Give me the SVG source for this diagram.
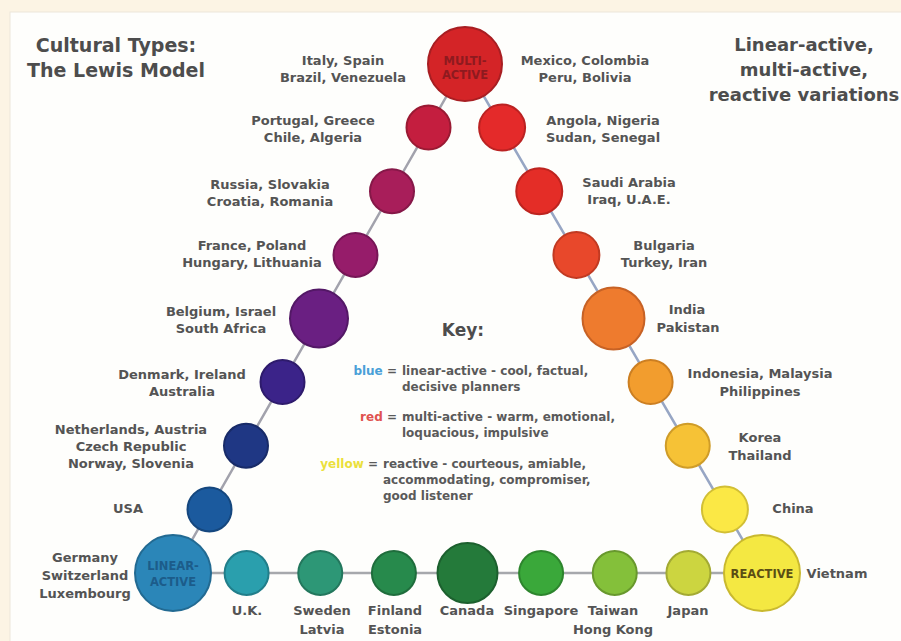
<svg xmlns="http://www.w3.org/2000/svg" width="901" height="641" viewBox="0 0 901 641">
<style>
.lbl{font-family:"DejaVu Sans","Liberation Sans",sans-serif;font-weight:bold;font-size:13px;fill:#545454;text-anchor:middle}
.ttl{font-family:"DejaVu Sans","Liberation Sans",sans-serif;font-weight:bold;fill:#4d4d4d;text-anchor:middle}
.key{font-family:"DejaVu Sans","Liberation Sans",sans-serif;font-weight:bold;font-size:12px;fill:#5a5a5a}
.in{font-family:"DejaVu Sans","Liberation Sans",sans-serif;font-weight:bold;font-size:11.5px;text-anchor:middle}
.cl{stroke-width:2.5;fill:none;stroke-linecap:round}
circle{stroke-width:2}
</style>
<rect x="0" y="0" width="901" height="641" fill="#fcf4e4"/>
<rect x="10" y="12" width="900" height="640" fill="#fefefc" stroke="#ece6da" stroke-width="1"/>

<g id="titles">
<text class="ttl" font-size="19" x="116" y="52">Cultural Types:</text>
<text class="ttl" font-size="19" x="116" y="77">The Lewis Model</text>
<text class="ttl" font-size="18" x="804" y="51">Linear-active,</text>
<text class="ttl" font-size="18" x="804" y="76">multi-active,</text>
<text class="ttl" font-size="18" x="804" y="101">reactive variations</text>
</g>

<g id="connectors">
<polyline class="cl" stroke="#a2a2ac" points="465,64 428.5,127.6 392,191.25 355.5,254.9 319,318.5 282.5,382.1 246,445.75 209.5,509.4 173,573"/>
<polyline class="cl" stroke="#97a6c4" points="465,64 502.1,127.6 539.25,191.25 576.4,254.9 613.5,318.5 650.6,382.1 687.75,445.75 724.9,509.4 762,573"/>
<line class="cl" stroke="#a6a8ac" x1="173" y1="573" x2="762" y2="573"/>
</g>

<g id="n-multi-active"><circle cx="465" cy="64" r="37" fill="#d42427" stroke="#a81e22"/><text class="in" fill="#8e1a1f" x="465" y="65">MULTI-</text><text class="in" fill="#8e1a1f" x="465" y="79">ACTIVE</text></g>
<g id="n-portugal"><circle cx="428.5" cy="127.6" r="22" fill="#c41e3f" stroke="#9a1a33"/></g>
<g id="n-russia"><circle cx="392" cy="191.25" r="22" fill="#a81e5a" stroke="#861848"/></g>
<g id="n-france"><circle cx="355.5" cy="254.9" r="22" fill="#961c6a" stroke="#761656"/></g>
<g id="n-belgium"><circle cx="319" cy="318.5" r="29" fill="#6a1f82" stroke="#531866"/></g>
<g id="n-denmark"><circle cx="282.5" cy="382.1" r="22" fill="#3b2389" stroke="#2e1b6c"/></g>
<g id="n-netherlands"><circle cx="246" cy="445.75" r="22" fill="#1f3784" stroke="#182b68"/></g>
<g id="n-usa"><circle cx="209.5" cy="509.4" r="22" fill="#1b5a9e" stroke="#15477e"/></g>
<g id="n-linear-active"><circle cx="173" cy="573" r="38" fill="#2b86b8" stroke="#226a92"/><text class="in" fill="#1c5c8a" x="173" y="570">LINEAR-</text><text class="in" fill="#1c5c8a" x="173" y="586">ACTIVE</text></g>
<g id="n-uk"><circle cx="246.6" cy="573" r="22" fill="#2a9fad" stroke="#217e8a"/></g>
<g id="n-sweden"><circle cx="320.25" cy="573" r="22" fill="#2d9776" stroke="#23775d"/></g>
<g id="n-finland"><circle cx="393.9" cy="573" r="22" fill="#278a4c" stroke="#1f6d3c"/></g>
<g id="n-canada"><circle cx="467.5" cy="573" r="30" fill="#247a3a" stroke="#1c602e"/></g>
<g id="n-singapore"><circle cx="541.1" cy="573" r="22" fill="#3aa83a" stroke="#2d852d"/></g>
<g id="n-taiwan"><circle cx="614.75" cy="573" r="22" fill="#84c03a" stroke="#68982d"/></g>
<g id="n-japan"><circle cx="688.4" cy="573" r="22" fill="#ccd540" stroke="#a3aa33"/></g>
<g id="n-reactive"><circle cx="762" cy="573" r="38" fill="#f4e842" stroke="#c9b92f"/><text class="in" fill="#5b4e14" x="762" y="578">REACTIVE</text></g>
<g id="n-china"><circle cx="724.9" cy="509.4" r="23" fill="#fbe845" stroke="#d2bf35"/></g>
<g id="n-korea"><circle cx="687.75" cy="445.75" r="22" fill="#f6c236" stroke="#cf9c28"/></g>
<g id="n-indonesia"><circle cx="650.6" cy="382.1" r="22" fill="#f29d2e" stroke="#cc7f22"/></g>
<g id="n-india"><circle cx="613.5" cy="318.5" r="31" fill="#ee7b2e" stroke="#c76225"/></g>
<g id="n-bulgaria"><circle cx="576.4" cy="254.9" r="23" fill="#e8482b" stroke="#c13a22"/></g>
<g id="n-saudi"><circle cx="539.25" cy="191.25" r="23" fill="#e42d27" stroke="#bd241f"/></g>
<g id="n-angola"><circle cx="502.1" cy="127.6" r="23" fill="#e42a2a" stroke="#bb2222"/></g>

<g id="labels">
<text class="lbl" x="343" y="64.5">Italy, Spain</text>
<text class="lbl" x="343" y="81.5">Brazil, Venezuela</text>
<text class="lbl" x="585" y="64.5">Mexico, Colombia</text>
<text class="lbl" x="585" y="81.5">Peru, Bolivia</text>
<text class="lbl" x="313" y="124.5">Portugal, Greece</text>
<text class="lbl" x="313" y="141.5">Chile, Algeria</text>
<text class="lbl" x="603" y="124.5">Angola, Nigeria</text>
<text class="lbl" x="603" y="142">Sudan, Senegal</text>
<text class="lbl" x="270" y="188.5">Russia, Slovakia</text>
<text class="lbl" x="270" y="205.5">Croatia, Romania</text>
<text class="lbl" x="629" y="186.5">Saudi Arabia</text>
<text class="lbl" x="629" y="203.5">Iraq, U.A.E.</text>
<text class="lbl" x="252" y="249.5">France, Poland</text>
<text class="lbl" x="252" y="267">Hungary, Lithuania</text>
<text class="lbl" x="664" y="249.5">Bulgaria</text>
<text class="lbl" x="664" y="267">Turkey, Iran</text>
<text class="lbl" x="221" y="315.5">Belgium, Israel</text>
<text class="lbl" x="221" y="333">South Africa</text>
<text class="lbl" x="687" y="313.5">India</text>
<text class="lbl" x="688" y="331.5">Pakistan</text>
<text class="lbl" x="182" y="378.5">Denmark, Ireland</text>
<text class="lbl" x="182" y="396">Australia</text>
<text class="lbl" x="760" y="377.5">Indonesia, Malaysia</text>
<text class="lbl" x="760" y="396">Philippines</text>
<text class="lbl" x="131" y="433.5">Netherlands, Austria</text>
<text class="lbl" x="131" y="450.5">Czech Republic</text>
<text class="lbl" x="131" y="468">Norway, Slovenia</text>
<text class="lbl" x="760" y="441.5">Korea</text>
<text class="lbl" x="760" y="459.5">Thailand</text>
<text class="lbl" x="128" y="512.5">USA</text>
<text class="lbl" x="793" y="512.5">China</text>
<text class="lbl" x="85" y="561.5">Germany</text>
<text class="lbl" x="85" y="579.5">Switzerland</text>
<text class="lbl" x="85" y="597.5">Luxembourg</text>
<text class="lbl" x="837" y="577.5">Vietnam</text>
<text class="lbl" x="247" y="615">U.K.</text>
<text class="lbl" x="322" y="615">Sweden</text>
<text class="lbl" x="322" y="634">Latvia</text>
<text class="lbl" x="395" y="615">Finland</text>
<text class="lbl" x="395" y="634">Estonia</text>
<text class="lbl" x="467" y="615">Canada</text>
<text class="lbl" x="541" y="615">Singapore</text>
<text class="lbl" x="613" y="615">Taiwan</text>
<text class="lbl" x="613" y="634">Hong Kong</text>
<text class="lbl" x="688" y="615">Japan</text>
</g>

<g id="key">
<text class="ttl" font-size="17" x="463" y="336">Key:</text>
<text class="key" x="397" y="374.5" text-anchor="end"><tspan fill="#4aa0d8">blue</tspan> =</text>
<text class="key" x="402" y="374.5">linear-active - cool, factual,</text>
<text class="key" x="402" y="390.5">decisive planners</text>
<text class="key" x="397" y="420.5" text-anchor="end"><tspan fill="#e0524f">red</tspan> =</text>
<text class="key" x="402" y="420.5">multi-active - warm, emotional,</text>
<text class="key" x="402" y="436.5">loquacious, impulsive</text>
<text class="key" x="378" y="467.5" text-anchor="end"><tspan fill="#ebe03c">yellow</tspan> =</text>
<text class="key" x="383" y="467.5">reactive - courteous, amiable,</text>
<text class="key" x="383" y="483.5">accommodating, compromiser,</text>
<text class="key" x="383" y="499.5">good listener</text>
</g>
</svg>
